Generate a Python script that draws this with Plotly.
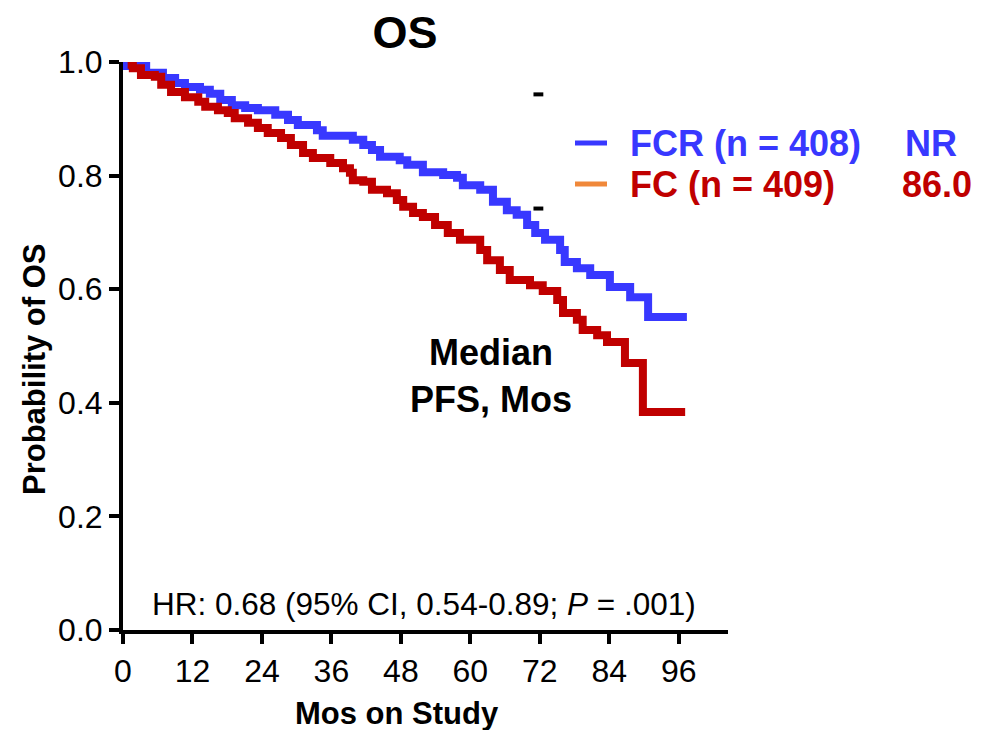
import plotly.graph_objects as go

# FCR arm (step times in months, survival probability after step)
fcr_t = [0, 4.0, 6.9, 9.0, 10.7, 13.3, 15.0, 16.8, 18.8, 21.1, 23.3, 26.3, 28.5, 30.2,
         33.5, 34.5, 39.7, 41.5, 43.0, 44.4, 47.8, 49.1, 51.8, 55.3, 57.7, 58.7, 61.7,
         63.9, 66.3, 68.0, 69.8, 71.2, 72.9, 75.5, 76.3, 78.4, 80.7, 84.1, 87.6, 90.7, 97.4]
fcr_p = [0.993, 0.981, 0.972, 0.963, 0.956, 0.951, 0.944, 0.933, 0.924, 0.919, 0.915, 0.907,
         0.898, 0.889, 0.880, 0.870, 0.863, 0.854, 0.845, 0.833, 0.827, 0.819, 0.806, 0.801,
         0.796, 0.783, 0.775, 0.754, 0.739, 0.731, 0.713, 0.699, 0.687, 0.669, 0.648, 0.637,
         0.625, 0.604, 0.586, 0.551, 0.551]

# FC arm
fc_t = [0.8, 1.7, 3.1, 5.5, 6.6, 8.3, 10.7, 13.0, 14.2, 16.4, 18.1, 19.3, 21.6, 23.3, 25.0,
        27.3, 29.0, 31.1, 32.8, 35.8, 38.0, 39.2, 39.7, 41.5, 43.0, 45.6, 47.3, 48.4, 50.1,
        51.8, 53.9, 56.1, 58.2, 61.7, 62.9, 65.1, 66.8, 70.3, 72.5, 75.0, 76.0, 78.4, 79.4,
        81.9, 83.6, 86.7, 89.8, 97.1]
fc_p = [0.995, 0.989, 0.977, 0.974, 0.960, 0.947, 0.938, 0.930, 0.921, 0.915, 0.910, 0.901,
        0.893, 0.884, 0.875, 0.866, 0.854, 0.840, 0.831, 0.822, 0.813, 0.805, 0.792, 0.789,
        0.775, 0.769, 0.757, 0.745, 0.734, 0.727, 0.713, 0.699, 0.687, 0.669, 0.651, 0.634,
        0.616, 0.607, 0.597, 0.581, 0.558, 0.546, 0.528, 0.519, 0.507, 0.470, 0.384, 0.384]

x_ticks = [0, 12, 24, 36, 48, 60, 72, 84, 96]
y_ticks = [0.0, 0.2, 0.4, 0.6, 0.8, 1.0]
y_ticktext = ["0.0", "0.2", "0.4", "0.6", "0.8", "1.0"]

legend_names = ["FCR (n = 408)", "FC (n = 409)"]
legend_medians = ["NR", "86.0"]

BLUE = "#3838FF"
RED = "#C00000"
ORANGE = "#F0883A"
FONT = "Liberation Sans, Arial, sans-serif"

fig = go.Figure()
fig.add_trace(go.Scatter(x=fcr_t, y=fcr_p, mode="lines", line=dict(color=BLUE, width=8, shape="hv"),
                         showlegend=False, hoverinfo="skip"))
fig.add_trace(go.Scatter(x=fc_t, y=fc_p, mode="lines", line=dict(color=RED, width=8, shape="hv"),
                         showlegend=False, hoverinfo="skip"))

W, H = 994, 730
L, R, T, B = 123, 266, 62, 100
fig.update_layout(
    width=W, height=H,
    margin=dict(l=L, r=R, t=T, b=B),
    plot_bgcolor="white", paper_bgcolor="white",
    font=dict(family=FONT, color="black"),
    title=dict(text="<b>OS</b>", x=405 / W, xanchor="center", y=1 - 32 / H, yanchor="middle",
               font=dict(size=45, family=FONT)),
)
fig.update_xaxes(range=[0, 104.5], tickvals=x_ticks, ticks="outside", ticklen=10, tickwidth=4,
                 showline=True, linewidth=4, linecolor="black", showgrid=False, zeroline=False,
                 tickfont=dict(size=32, family=FONT), tickcolor="black", automargin=False)
fig.update_yaxes(range=[0, 1], tickvals=y_ticks, ticktext=y_ticktext, ticks="outside", ticklen=10,
                 tickwidth=4, showline=True, linewidth=4, linecolor="black", showgrid=False,
                 zeroline=False, tickfont=dict(size=32), tickcolor="black", automargin=False)

pw = W - L - R
ph = H - T - B


def px_x(p):
    return (p - L) / pw


def px_y(p):
    return (H - B - p) / ph


# axis titles
fig.add_annotation(xref="paper", yref="paper", x=px_x(397), y=px_y(713), text="<b>Mos on Study</b>",
                   showarrow=False, xanchor="center", yanchor="middle", font=dict(size=31, family=FONT))
fig.add_annotation(xref="paper", yref="paper", x=px_x(35), y=px_y(370), text="<b>Probability of OS</b>",
                   showarrow=False, xanchor="center", yanchor="middle", textangle=-90,
                   font=dict(size=31, family=FONT))

# legend rows (custom)
leg_px = [143, 184]
leg_col = [BLUE, RED]
sw_col = [BLUE, ORANGE]
for i in range(2):
    fig.add_shape(type="line", xref="paper", yref="paper", x0=px_x(575), x1=px_x(607),
                  y0=px_y(leg_px[i]), y1=px_y(leg_px[i]), line=dict(color=sw_col[i], width=5))
    fig.add_annotation(xref="paper", yref="paper", x=px_x(628), y=px_y(leg_px[i]), xanchor="left",
                       yanchor="middle", showarrow=False, text="<b>%s</b>" % legend_names[i],
                       font=dict(size=36, color=leg_col[i], family=FONT))
    fig.add_annotation(xref="paper", yref="paper", x=px_x(974) if i else px_x(959),
                       y=px_y(leg_px[i]), xanchor="right", yanchor="middle", showarrow=False,
                       text="<b>%s</b>" % legend_medians[i],
                       font=dict(size=36, color=leg_col[i], family=FONT))

# small black dashes
for yy in [0.943, 0.742]:
    fig.add_shape(type="line", xref="x", yref="y", x0=70.9, x1=72.6, y0=yy, y1=yy,
                  line=dict(color="black", width=4))

fig.add_annotation(xref="x", yref="y", x=63.6, y=0.447, text="<b>Median<br>PFS, Mos</b>",
                   showarrow=False, font=dict(size=36, family=FONT), align="center")
fig.add_annotation(xref="paper", yref="y", x=px_x(424), y=0.046,
                   text="HR: 0.68 (95% CI, 0.54-0.89; <i>P</i> = .001)", showarrow=False,
                   font=dict(size=31.5, family=FONT))

fig.write_html("out.html")
